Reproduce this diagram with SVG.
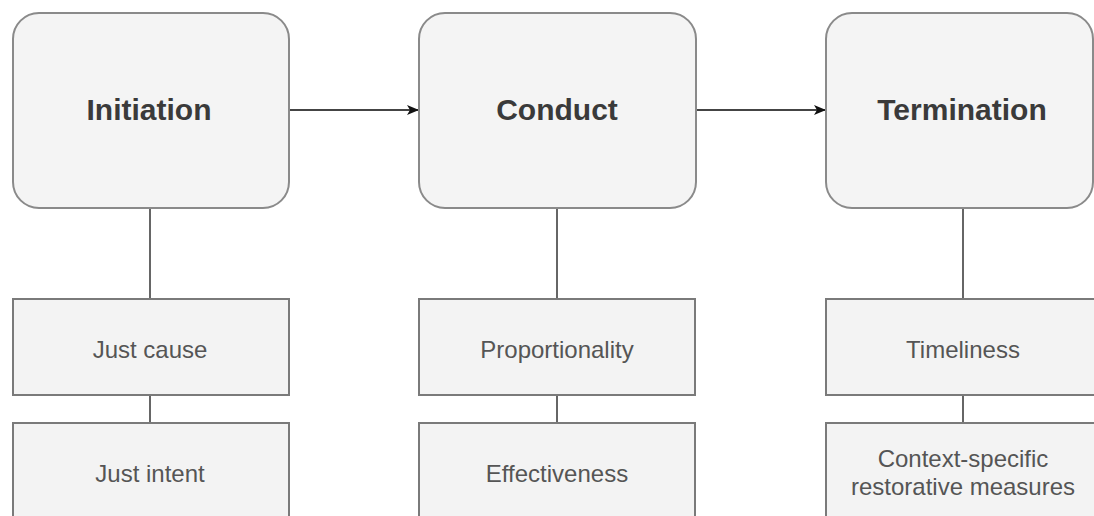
<svg xmlns="http://www.w3.org/2000/svg" width="1094" height="516" viewBox="0 0 1094 516">
<defs>
<marker id="ah" markerWidth="12" markerHeight="12" refX="11" refY="6" orient="auto" markerUnits="userSpaceOnUse">
<path d="M0,1 L12,6 L0,11 L3,6 Z" fill="#111"/>
</marker>
<style>
.main{fill:#f4f4f4;stroke:#8a8a8a;stroke-width:2}
.sub{fill:#f3f3f3;stroke:#7a7a7a;stroke-width:2}
.title{font-family:"Liberation Sans",Arial,sans-serif;font-weight:bold;font-size:30px;fill:#3a3a3a;text-anchor:middle}
.lbl{font-family:"Liberation Sans",Arial,sans-serif;font-size:24px;fill:#555;text-anchor:middle}
.ln{stroke:#666;stroke-width:2;fill:none}
.arr{stroke:#444;stroke-width:2;fill:none}
</style>
</defs>
<rect width="1094" height="516" fill="#fff"/>
<g id="connectors">
<line class="arr" x1="289" y1="110" x2="418" y2="110" marker-end="url(#ah)"/>
<line class="arr" x1="696" y1="110" x2="825" y2="110" marker-end="url(#ah)"/>
<line class="ln" x1="150" y1="208" x2="150" y2="299"/>
<line class="ln" x1="150" y1="395" x2="150" y2="423"/>
<line class="ln" x1="557" y1="208" x2="557" y2="299"/>
<line class="ln" x1="557" y1="395" x2="557" y2="423"/>
<line class="ln" x1="963" y1="208" x2="963" y2="299"/>
<line class="ln" x1="963" y1="395" x2="963" y2="423"/>
</g>
<g id="initiation">
<rect class="main" x="13" y="13" width="276" height="195" rx="26"/>
<text class="title" x="149" y="120">Initiation</text>
</g>
<g id="conduct">
<rect class="main" x="419" y="13" width="277" height="195" rx="26"/>
<text class="title" x="557" y="120">Conduct</text>
</g>
<g id="termination">
<rect class="main" x="826" y="13" width="267" height="195" rx="26"/>
<text class="title" x="962" y="120">Termination</text>
</g>
<g id="just-cause">
<rect class="sub" x="13" y="299" width="276" height="96"/>
<text class="lbl" x="150" y="358">Just cause</text>
</g>
<g id="just-intent">
<rect class="sub" x="13" y="423" width="276" height="110"/>
<text class="lbl" x="150" y="482">Just intent</text>
</g>
<g id="proportionality">
<rect class="sub" x="419" y="299" width="276" height="96"/>
<text class="lbl" x="557" y="358">Proportionality</text>
</g>
<g id="effectiveness">
<rect class="sub" x="419" y="423" width="276" height="110"/>
<text class="lbl" x="557" y="482">Effectiveness</text>
</g>
<g id="timeliness">
<rect class="sub" x="826" y="299" width="276" height="96"/>
<text class="lbl" x="963" y="358">Timeliness</text>
</g>
<g id="context-specific">
<rect class="sub" x="826" y="423" width="276" height="110"/>
<text class="lbl" x="963" y="467">Context-specific</text>
<text class="lbl" x="963" y="495">restorative measures</text>
</g>
</svg>
